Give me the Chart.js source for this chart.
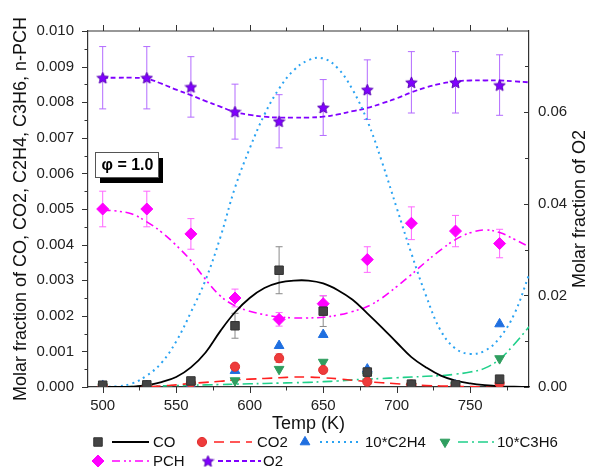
<!DOCTYPE html>
<html>
<head>
<meta charset="utf-8">
<script src="https://cdn.jsdelivr.net/npm/chart.js@4"></script>
<style>
  html, body { margin: 0; padding: 0; background: #fff; }
  #wrap { width: 590px; height: 467px; }
</style>
</head>
<body>
<div id="wrap"><canvas id="grafico" width="590" height="467"></canvas></div>
<script>
// measured points
const temps = [500, 530, 560, 590, 620, 650, 680, 710, 740, 770];
const coPts = [0.00005, 0.00006, 0.00017, 0.00172, 0.00328, 0.00213, 0.00042, 0.00008, 0.00006, 0.00022];
const coErr = [0.00001, 0.00001, 0.00003, 0.00035, 0.00066, 0.00043, 0.00008, 0.00002, 0.00001, 0.00004];
const co2Pts = [0.00003, 0.00003, 0.00011, 0.00057, 0.00081, 0.00048, 0.00015, 0.00007, 0.00003, 0.0001];
const co2Err = [0, 0, 0.00001, 0.00006, 0.00012, 0.00005, 0.00002, 0.00001, 0, 0.00001];
const c2h4Pts = [0.00004, 0.00003, 0.00005, 0.00046, 0.00116, 0.00147, 0.0005, 0.00004, 0.00005, 0.00177];
const c3h6Pts = [0.00001, 0.00001, 0.00002, 0.00018, 0.0005, 0.0007, 0.00032, 0.00003, 0.00004, 0.0008];
const pchPts = [0.0050, 0.0050, 0.0043, 0.0025, 0.0019, 0.00234, 0.00358, 0.0046, 0.00438, 0.00403];
const pchErr = [0.0005, 0.0005, 0.00043, 0.00025, 0.00019, 0.00023, 0.00036, 0.00046, 0.00044, 0.0004];
const o2Pts = [0.0675, 0.0675, 0.0655, 0.0601, 0.0580, 0.0610, 0.0649, 0.0665, 0.0665, 0.0659];
const o2Err = [0.0068, 0.0068, 0.0066, 0.006, 0.0058, 0.0061, 0.0065, 0.0067, 0.0067, 0.0066];

// fitted curves, read every 10 K
const fitTemps = [500, 510, 520, 530, 540, 550, 560, 570, 580, 590, 600, 610, 620, 630, 640,
                  650, 660, 670, 680, 690, 700, 710, 720, 730, 740, 750, 760, 770, 780, 790];
const coFit = [0, 0, 0.00001, 0.00005, 0.00014, 0.00028, 0.00055, 0.00097, 0.00157, 0.0021,
               0.0025, 0.00278, 0.00293, 0.00299, 0.00299, 0.00291, 0.00272, 0.00245, 0.00207, 0.00167,
               0.00125, 0.00084, 0.00055, 0.00032, 0.00018, 0.0001, 0.00005, 0.00002, 0.00001, 0];
const co2Fit = [0, 0, 0, 0.00001, 0.00003, 0.00006, 0.0001, 0.00013, 0.00016, 0.0002,
                0.00022, 0.00024, 0.00026, 0.00028, 0.00028, 0.00026, 0.00023, 0.00019, 0.00015, 0.00012,
                0.00009, 0.00006, 0.00004, 0.00003, 0.00002, 0.00001, 0, 0, 0, 0];
const c2h4Fit = [0, 0.00002, 0.0001, 0.00032, 0.00068, 0.00128, 0.0021, 0.00301, 0.0042, 0.0056,
                 0.0067, 0.00765, 0.00838, 0.0089, 0.00918, 0.00923, 0.00895, 0.00835, 0.00748, 0.00632,
                 0.00503, 0.00375, 0.00256, 0.00158, 0.00108, 0.00093, 0.00102, 0.00138, 0.00205, 0.00315];
const c3h6Fit = [0, 0, 0.00001, 0.00002, 0.00003, 0.00004, 0.00005, 0.00006, 0.00007, 0.00008,
                 0.00009, 0.0001, 0.00011, 0.00012, 0.00013, 0.00015, 0.00017, 0.0002, 0.00022, 0.00024,
                 0.00026, 0.00028, 0.0003, 0.00032, 0.00036, 0.00042, 0.00053, 0.00078, 0.0012, 0.00169];
const pchFit = [0.00497, 0.00494, 0.00486, 0.00464, 0.00435, 0.00398, 0.00355, 0.00302, 0.00256, 0.00228,
                0.00213, 0.00203, 0.00197, 0.00194, 0.00194, 0.00196, 0.00202, 0.00212, 0.00226, 0.0025,
                0.00282, 0.00316, 0.00352, 0.00385, 0.00414, 0.00433, 0.00441, 0.00434, 0.00415, 0.00394];
const o2Fit = [0.0675, 0.0675, 0.0675, 0.0673, 0.0662, 0.0649, 0.0637, 0.0624, 0.0612, 0.0600,
               0.0594, 0.0590, 0.0588, 0.0588, 0.0588, 0.0590, 0.0595, 0.0602, 0.0609, 0.0619,
               0.0630, 0.0643, 0.0654, 0.0662, 0.0667, 0.0669, 0.0669, 0.0669, 0.0667, 0.0665];

// axis ticks
const xTicks = [500, 550, 600, 650, 700, 750];
const xMinor = [525, 575, 625, 675, 725, 775];
const yTicks = [0, 0.001, 0.002, 0.003, 0.004, 0.005, 0.006, 0.007, 0.008, 0.009, 0.010];
const yMinor = [0.0005, 0.0015, 0.0025, 0.0035, 0.0045, 0.0055, 0.0065, 0.0075, 0.0085, 0.0095];
const y2Ticks = [0, 0.02, 0.04, 0.06];
const y2Minor = [0.01, 0.03, 0.05, 0.07];

const FONT = "'Liberation Sans', Arial, sans-serif";
Chart.defaults.font.family = FONT;

function hacerEstrella(size, fill, stroke) {
  const c = document.createElement('canvas');
  c.width = size; c.height = size;
  const g = c.getContext('2d');
  const cx = size / 2, cy = size / 2 + 0.6, R = size / 2 - 0.5, r = R * 0.45;
  g.beginPath();
  for (let i = 0; i < 10; i++) {
    const a = -Math.PI / 2 + i * Math.PI / 5;
    const rr = i % 2 ? r : R;
    g.lineTo(cx + rr * Math.cos(a), cy + rr * Math.sin(a));
  }
  g.closePath();
  g.fillStyle = fill; g.fill();
  g.strokeStyle = stroke; g.lineWidth = 1; g.stroke();
  return c;
}
const estrella = hacerEstrella(13, '#8000ff', '#5a00b8');

const pares = (xs, ys) => xs.map((x, i) => ({ x: x, y: ys[i] }));

function puntos(label, ys, style, color, border, radius, extra) {
  return Object.assign({
    label: label, data: pares(temps, ys), showLine: false,
    pointStyle: style, pointRadius: radius, pointHoverRadius: radius,
    backgroundColor: color, borderColor: border, pointBorderWidth: 1, yAxisID: 'y'
  }, extra || {});
}
function ajuste(label, ys, color, dash, width, extra) {
  return Object.assign({
    label: label, data: pares(fitTemps, ys), pointRadius: 0, borderColor: color,
    borderWidth: width, borderDash: dash, tension: 0.4, fill: false, yAxisID: 'y'
  }, extra || {});
}

const series = {
  co:   { color: '#444444', border: '#333333', style: 'rect', r: 6, line: '#000000', dash: [], w: 1.8 },
  co2:  { color: '#ee3b3b', border: '#e03030', style: 'circle', r: 4.6, line: '#ff2020', dash: [10, 6], w: 1.6 },
  c2h4: { color: '#1f6fe0', border: '#1f6fe0', style: 'triangle', r: 5.6, line: '#2aa3f2', dash: [2, 4], w: 2 },
  c3h6: { color: '#2f9e5f', border: '#2f9e5f', style: 'triangle', r: 5.6, rot: 180, line: '#1fd08a', dash: [10, 4, 2, 4], w: 1.6 },
  pch:  { color: '#ff00ff', border: '#ff00ff', style: 'rectRot', r: 6, line: '#ff00ff', dash: [8, 4, 2, 3, 2, 4], w: 1.6 },
  o2:   { color: '#8000ff', border: '#5a00b8', style: estrella, r: 6, line: '#8000ff', dash: [5, 3], w: 1.8 }
};

const errores = [
  { ds: 0, errs: coErr, color: '#8a8a8a' },
  { ds: 1, errs: co2Err, color: '#f06060' },
  { ds: 4, errs: pchErr, color: '#ff66ff' },
  { ds: 5, errs: o2Err, color: '#b36bff' }
];

const barrasError = {
  id: 'barrasError',
  beforeDatasetsDraw(chart) {
    const ctx = chart.ctx;
    ctx.save();
    errores.forEach(e => {
      const meta = chart.getDatasetMeta(e.ds);
      const sc = chart.scales[meta.yAxisID];
      const vals = chart.data.datasets[e.ds].data;
      meta.data.forEach((pt, i) => {
        const v = vals[i].y, d = e.errs[i];
        if (!d) return;
        const y1 = sc.getPixelForValue(v + d), y2 = sc.getPixelForValue(v - d);
        ctx.strokeStyle = e.color; ctx.lineWidth = 1;
        ctx.beginPath();
        ctx.moveTo(pt.x, y1); ctx.lineTo(pt.x, y2);
        ctx.moveTo(pt.x - 3.5, y1); ctx.lineTo(pt.x + 3.5, y1);
        ctx.moveTo(pt.x - 3.5, y2); ctx.lineTo(pt.x + 3.5, y2);
        ctx.stroke();
      });
    });
    ctx.restore();
  }
};

const marco = {
  id: 'marco',
  afterDraw(chart) {
    const ctx = chart.ctx;
    const a = chart.chartArea;
    const sx = chart.scales.x, sy = chart.scales.y, sy2 = chart.scales.y2;
    ctx.save();
    ctx.strokeStyle = '#333'; ctx.lineWidth = 1.2;
    ctx.beginPath();
    ctx.moveTo(a.left, a.top); ctx.lineTo(a.right, a.top);
    ctx.stroke();
    ctx.lineWidth = 1;
    ctx.beginPath();
    const marca = (vals, len, fn) => vals.forEach(v => fn(v, len));
    marca(xTicks, 6, (v, l) => { const p = Math.round(sx.getPixelForValue(v)) + 0.5;
      ctx.moveTo(p, a.bottom); ctx.lineTo(p, a.bottom + l); ctx.moveTo(p, a.top); ctx.lineTo(p, a.top - l); });
    marca(xMinor, 3.5, (v, l) => { const p = Math.round(sx.getPixelForValue(v)) + 0.5;
      ctx.moveTo(p, a.bottom); ctx.lineTo(p, a.bottom + l); ctx.moveTo(p, a.top); ctx.lineTo(p, a.top - l); });
    marca(yTicks, 6, (v, l) => { const p = Math.round(sy.getPixelForValue(v)) + 0.5;
      ctx.moveTo(a.left, p); ctx.lineTo(a.left - l, p); });
    marca(yMinor, 3.5, (v, l) => { const p = Math.round(sy.getPixelForValue(v)) + 0.5;
      ctx.moveTo(a.left, p); ctx.lineTo(a.left - l, p); });
    marca(y2Ticks, 5, (v, l) => { const p = Math.round(sy2.getPixelForValue(v)) + 0.5;
      ctx.moveTo(a.right, p); ctx.lineTo(a.right - l, p); });
    marca(y2Minor, 4, (v, l) => { const p = Math.round(sy2.getPixelForValue(v)) + 0.5;
      ctx.moveTo(a.right, p); ctx.lineTo(a.right - l, p); });
    ctx.stroke();

    // right axis title
    ctx.fillStyle = '#111';
    ctx.font = '18px ' + FONT;
    ctx.textAlign = 'center'; ctx.textBaseline = 'middle';
    ctx.translate(580, (a.top + a.bottom) / 2);
    ctx.rotate(-Math.PI / 2);
    ctx.fillText('Molar fraction of O2', 0, 0);
    ctx.restore();

    // phi label box
    ctx.save();
    const bx = a.left + 7, by = a.top + 121, bw = 63, bh = 25;
    ctx.fillStyle = '#000';
    ctx.fillRect(bx + 5, by + 6, bw, bh);
    ctx.fillStyle = '#fff';
    ctx.fillRect(bx, by, bw, bh);
    ctx.strokeStyle = '#555'; ctx.lineWidth = 1;
    ctx.strokeRect(bx + 0.5, by + 0.5, bw, bh);
    ctx.fillStyle = '#000';
    ctx.font = 'bold 16px ' + FONT;
    ctx.textAlign = 'center'; ctx.textBaseline = 'middle';
    ctx.fillText('\u03c6 = 1.0', bx + bw / 2 + 1, by + bh / 2 + 1);
    ctx.restore();

    // legend
    const filas = [
      { k: 'co', t: 'CO', m: 98, l1: 112, l2: 149, tx: 153, y: 442 },
      { k: 'co2', t: 'CO2', m: 202, l1: 214, l2: 252, tx: 257, y: 442 },
      { k: 'c2h4', t: '10*C2H4', m: 305, l1: 320, l2: 362, tx: 365, y: 442 },
      { k: 'c3h6', t: '10*C3H6', m: 445, l1: 458, l2: 495, tx: 497, y: 442 },
      { k: 'pch', t: 'PCH', m: 98, l1: 112, l2: 150, tx: 153, y: 461 },
      { k: 'o2', t: 'O2', m: 208, l1: 218, l2: 261, tx: 263, y: 461 }
    ];
    ctx.save();
    ctx.font = '15px ' + FONT;
    ctx.textAlign = 'left'; ctx.textBaseline = 'middle';
    filas.forEach(f => {
      const s = series[f.k];
      ctx.fillStyle = s.color; ctx.strokeStyle = s.border; ctx.lineWidth = 1;
      ctx.setLineDash([]);
      Chart.helpers.drawPoint(ctx, { pointStyle: s.style, radius: s.r, rotation: s.rot || 0, borderWidth: 1 }, f.m, f.y);
      ctx.strokeStyle = s.line; ctx.lineWidth = s.w;
      ctx.setLineDash(s.dash);
      ctx.beginPath(); ctx.moveTo(f.l1, f.y); ctx.lineTo(f.l2, f.y); ctx.stroke();
      ctx.setLineDash([]);
      ctx.fillStyle = '#111';
      ctx.fillText(f.t, f.tx, f.y + 1);
    });
    ctx.restore();
  }
};

const s = series;
const ctx = document.getElementById('grafico').getContext('2d');
new Chart(ctx, {
  type: 'line',
  data: {
    datasets: [
      puntos('CO', coPts, s.co.style, s.co.color, s.co.border, s.co.r),
      puntos('CO2', co2Pts, s.co2.style, s.co2.color, s.co2.border, s.co2.r),
      puntos('10*C2H4', c2h4Pts, s.c2h4.style, s.c2h4.color, s.c2h4.border, s.c2h4.r),
      puntos('10*C3H6', c3h6Pts, s.c3h6.style, s.c3h6.color, s.c3h6.border, s.c3h6.r, { pointRotation: 180 }),
      puntos('PCH', pchPts, s.pch.style, s.pch.color, s.pch.border, s.pch.r),
      puntos('O2', o2Pts, s.o2.style, s.o2.color, s.o2.border, s.o2.r, { yAxisID: 'y2' }),
      ajuste('CO fit', coFit, s.co.line, s.co.dash, s.co.w),
      ajuste('CO2 fit', co2Fit, s.co2.line, s.co2.dash, s.co2.w),
      ajuste('10*C2H4 fit', c2h4Fit, s.c2h4.line, s.c2h4.dash, s.c2h4.w),
      ajuste('10*C3H6 fit', c3h6Fit, s.c3h6.line, s.c3h6.dash, s.c3h6.w),
      ajuste('PCH fit', pchFit, s.pch.line, s.pch.dash, s.pch.w),
      ajuste('O2 fit', o2Fit, s.o2.line, s.o2.dash, s.o2.w, { yAxisID: 'y2' })
    ]
  },
  options: {
    responsive: false,
    animation: false,
    devicePixelRatio: 1,
    layout: { padding: { top: 31, left: 0, right: 0, bottom: 0 } },
    plugins: { legend: { display: false }, tooltip: { enabled: false } },
    scales: {
      x: {
        type: 'linear', min: 490, max: 790,
        afterBuildTicks: sc => { sc.ticks = xTicks.map(v => ({ value: v })); },
        afterFit: sc => { sc.height = 80; },
        grid: { display: false, drawTicks: false },
        border: { display: true, color: '#333', width: 1.2 },
        ticks: { color: '#222', font: { size: 15 }, padding: 10, maxRotation: 0, callback: v => String(v) },
        title: { display: true, text: 'Temp (K)', color: '#111', font: { size: 18 }, padding: { top: 0, bottom: 32 } }
      },
      y: {
        position: 'left', min: 0, max: 0.010,
        afterBuildTicks: sc => { sc.ticks = yTicks.map(v => ({ value: v })); },
        afterFit: sc => { sc.width = 88; },
        grid: { display: false, drawTicks: false },
        border: { display: true, color: '#333', width: 1.2 },
        ticks: { color: '#222', font: { size: 15 }, padding: 14, callback: v => v.toFixed(3) },
        title: { display: true, text: 'Molar fraction of CO, CO2, C2H4, C3H6, n-PCH', color: '#111', font: { size: 18 }, padding: { top: 10, bottom: 0 } }
      },
      y2: {
        position: 'right', min: 0, max: 0.0777,
        afterBuildTicks: sc => { sc.ticks = y2Ticks.map(v => ({ value: v })); },
        afterFit: sc => { sc.width = 61; },
        grid: { display: false, drawTicks: false },
        border: { display: true, color: '#333', width: 1.2 },
        ticks: { color: '#222', font: { size: 15 }, padding: 9, callback: v => v.toFixed(2) }
      }
    }
  },
  plugins: [barrasError, marco]
});
</script>
</body>
</html>
